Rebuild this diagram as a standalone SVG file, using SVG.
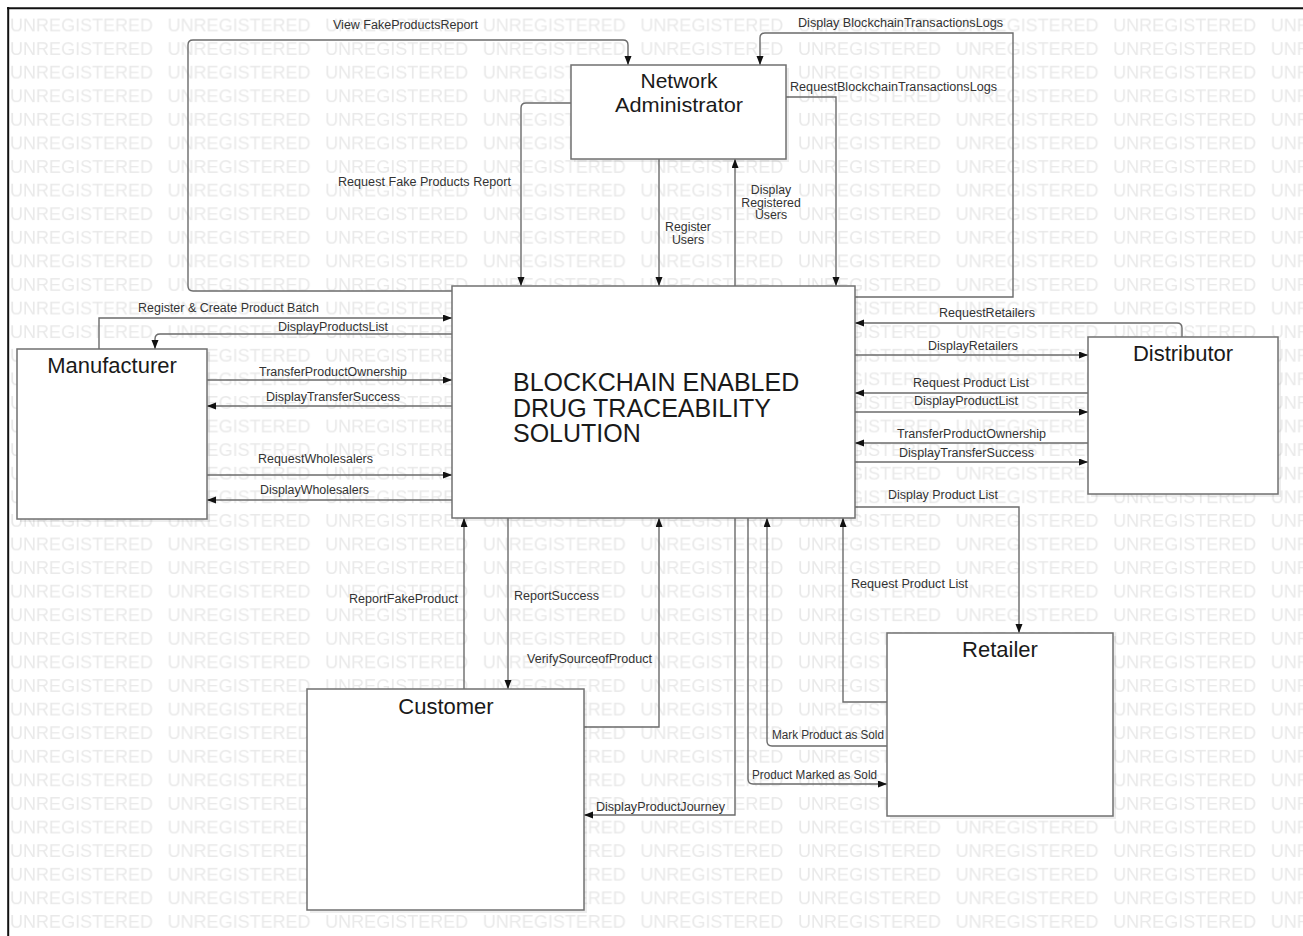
<svg xmlns="http://www.w3.org/2000/svg" width="1303" height="936" viewBox="0 0 1303 936">
  <style>
    .wm { font-family: "Liberation Sans", Arial, sans-serif; font-size: 18px; fill: #e9e9e9; }
    .node { fill: #ffffff; stroke: #707070; stroke-width: 1.5; }
    .shadow { fill: #000000; opacity: 0.07; }
    .title { font-family: "Liberation Sans", Arial, sans-serif; font-size: 22px; fill: #1a1a1a; text-anchor: middle; }
    .main { font-family: "Liberation Sans", Arial, sans-serif; font-size: 25px; fill: #1a1a1a; }
    .edge { fill: none; stroke: #6b6b6b; stroke-width: 1.4; }
    .lbl { font-family: "Liberation Sans", Arial, sans-serif; font-size: 12.3px; fill: #333333; }
    .mid { text-anchor: middle; }
  </style>
  <defs>
    <pattern id="watermark" patternUnits="userSpaceOnUse" x="10" y="12.7" width="157.6" height="23.59">
      <text class="wm" x="0" y="19">UNREGISTERED</text>
    </pattern>
    <marker id="arrow" markerUnits="userSpaceOnUse" markerWidth="10" markerHeight="8" refX="9" refY="3.5" orient="auto">
      <path d="M0,0 L9,3.5 L0,7 z" fill="#111111"/>
    </marker>
  </defs>

  <!-- page background, watermark and frame -->
  <rect x="0" y="0" width="1303" height="936" fill="#ffffff"/>
  <rect x="9" y="9" width="1294" height="927" fill="url(#watermark)"/>
  <line x1="7" y1="8.3" x2="1303" y2="8.3" stroke="#111111" stroke-width="2"/>
  <line x1="8.2" y1="7" x2="8.2" y2="936" stroke="#111111" stroke-width="2"/>

  <!-- connectors -->
  <g id="connectors">
    <path class="edge" marker-end="url(#arrow)" d="M452,291 H193 Q188,291 188,286 V45 Q188,40 193,40 H623 Q628,40 628,45 V65"/>
    <path class="edge" marker-end="url(#arrow)" d="M571,103 H526 Q521,103 521,108 V286"/>
    <path class="edge" marker-end="url(#arrow)" d="M659,159 V286"/>
    <path class="edge" marker-end="url(#arrow)" d="M735,286 V159"/>
    <path class="edge" marker-end="url(#arrow)" d="M786,97 H836 V286"/>
    <path class="edge" marker-end="url(#arrow)" d="M855,297 H1013 V33 H765 Q760,33 760,38 V65"/>

    <path class="edge" marker-end="url(#arrow)" d="M99,349 V318 H452"/>
    <path class="edge" marker-end="url(#arrow)" d="M452,334 H160 Q155,334 155,339 V349"/>
    <path class="edge" marker-end="url(#arrow)" d="M207,380 H452"/>
    <path class="edge" marker-end="url(#arrow)" d="M452,406 H207"/>
    <path class="edge" marker-end="url(#arrow)" d="M207,475 H452"/>
    <path class="edge" marker-end="url(#arrow)" d="M452,500 H207"/>

    <path class="edge" marker-end="url(#arrow)" d="M1182,337 V328 Q1182,323 1177,323 H855"/>
    <path class="edge" marker-end="url(#arrow)" d="M855,355 H1088"/>
    <path class="edge" marker-end="url(#arrow)" d="M1088,393 H855"/>
    <path class="edge" marker-end="url(#arrow)" d="M855,412 H1088"/>
    <path class="edge" marker-end="url(#arrow)" d="M1088,443 H855"/>
    <path class="edge" marker-end="url(#arrow)" d="M855,462 H1088"/>
    <path class="edge" marker-end="url(#arrow)" d="M855,507 H1019 V633"/>

    <path class="edge" marker-end="url(#arrow)" d="M887,702 H843 V518"/>
    <path class="edge" marker-end="url(#arrow)" d="M887,746 H772 Q767,746 767,741 V518"/>
    <path class="edge" marker-end="url(#arrow)" d="M748,518 V779 Q748,784 753,784 H887"/>
    <path class="edge" marker-end="url(#arrow)" d="M735,518 V815 H584"/>

    <path class="edge" marker-end="url(#arrow)" d="M464,689 V518"/>
    <path class="edge" marker-end="url(#arrow)" d="M508,518 V689"/>
    <path class="edge" marker-end="url(#arrow)" d="M584,727 H659 V518"/>

    <!-- connector labels -->
    <text class="lbl" x="333" y="29" textLength="145" lengthAdjust="spacingAndGlyphs">View FakeProductsReport</text>
    <text class="lbl" x="338" y="186" textLength="173" lengthAdjust="spacingAndGlyphs">Request Fake Products Report</text>
    <text class="lbl mid" y="231"><tspan x="688">Register</tspan><tspan x="688" dy="12.5">Users</tspan></text>
    <text class="lbl mid" y="194"><tspan x="771">Display</tspan><tspan x="771" dy="12.5">Registered</tspan><tspan x="771" dy="12.5">Users</tspan></text>
    <text class="lbl" x="790" y="91" textLength="207" lengthAdjust="spacingAndGlyphs">RequestBlockchainTransactionsLogs</text>
    <text class="lbl" x="798" y="27" textLength="205" lengthAdjust="spacingAndGlyphs">Display BlockchainTransactionsLogs</text>

    <text class="lbl" x="138" y="312" textLength="181" lengthAdjust="spacingAndGlyphs">Register &amp; Create Product Batch</text>
    <text class="lbl" x="278" y="331" textLength="110" lengthAdjust="spacingAndGlyphs">DisplayProductsList</text>
    <text class="lbl" x="259" y="376" textLength="148" lengthAdjust="spacingAndGlyphs">TransferProductOwnership</text>
    <text class="lbl" x="266" y="401" textLength="134" lengthAdjust="spacingAndGlyphs">DisplayTransferSuccess</text>
    <text class="lbl" x="258" y="463" textLength="115" lengthAdjust="spacingAndGlyphs">RequestWholesalers</text>
    <text class="lbl" x="260" y="494" textLength="109" lengthAdjust="spacingAndGlyphs">DisplayWholesalers</text>

    <text class="lbl" x="939" y="317" textLength="96" lengthAdjust="spacingAndGlyphs">RequestRetailers</text>
    <text class="lbl" x="928" y="350" textLength="90" lengthAdjust="spacingAndGlyphs">DisplayRetailers</text>
    <text class="lbl" x="913" y="387" textLength="116" lengthAdjust="spacingAndGlyphs">Request Product List</text>
    <text class="lbl" x="914" y="405" textLength="104" lengthAdjust="spacingAndGlyphs">DisplayProductList</text>
    <text class="lbl" x="897" y="438" textLength="149" lengthAdjust="spacingAndGlyphs">TransferProductOwnership</text>
    <text class="lbl" x="899" y="457" textLength="135" lengthAdjust="spacingAndGlyphs">DisplayTransferSuccess</text>
    <text class="lbl" x="888" y="499" textLength="110" lengthAdjust="spacingAndGlyphs">Display Product List</text>

    <text class="lbl" x="851" y="588" textLength="117" lengthAdjust="spacingAndGlyphs">Request Product List</text>
    <text class="lbl" x="772" y="739" textLength="112" lengthAdjust="spacingAndGlyphs">Mark Product as Sold</text>
    <text class="lbl" x="752" y="779" textLength="125" lengthAdjust="spacingAndGlyphs">Product Marked as Sold</text>
    <text class="lbl" x="596" y="811" textLength="129" lengthAdjust="spacingAndGlyphs">DisplayProductJourney</text>
    <text class="lbl" x="349" y="603" textLength="109" lengthAdjust="spacingAndGlyphs">ReportFakeProduct</text>
    <text class="lbl" x="514" y="600" textLength="85" lengthAdjust="spacingAndGlyphs">ReportSuccess</text>
    <text class="lbl" x="527" y="663" textLength="125" lengthAdjust="spacingAndGlyphs">VerifySourceofProduct</text>
  </g>

  <!-- nodes -->
  <g id="network-administrator">
    <rect class="shadow" x="574" y="68" width="215" height="94"/>
    <rect class="node" x="571" y="65" width="215" height="94"/>
    <text class="title" style="font-size:21px" y="88"><tspan x="679">Network</tspan><tspan x="679" dy="24.2" textLength="128" lengthAdjust="spacingAndGlyphs">Administrator</tspan></text>
  </g>

  <g id="blockchain-solution">
    <rect class="shadow" x="455" y="289" width="403" height="232"/>
    <rect class="node" x="452" y="286" width="403" height="232"/>
    <text class="main" y="391"><tspan x="513">BLOCKCHAIN ENABLED</tspan><tspan x="513" dy="25.5">DRUG TRACEABILITY</tspan><tspan x="513" dy="25.5">SOLUTION</tspan></text>
  </g>

  <g id="manufacturer">
    <rect class="shadow" x="20" y="352" width="190" height="170"/>
    <rect class="node" x="17" y="349" width="190" height="170"/>
    <text class="title" x="112" y="373">Manufacturer</text>
  </g>

  <g id="distributor">
    <rect class="shadow" x="1091" y="340" width="190" height="157"/>
    <rect class="node" x="1088" y="337" width="190" height="157"/>
    <text class="title" x="1183" y="361">Distributor</text>
  </g>

  <g id="retailer">
    <rect class="shadow" x="890" y="636" width="226" height="183"/>
    <rect class="node" x="887" y="633" width="226" height="183"/>
    <text class="title" x="1000" y="657">Retailer</text>
  </g>

  <g id="customer">
    <rect class="shadow" x="310" y="692" width="277" height="221"/>
    <rect class="node" x="307" y="689" width="277" height="221"/>
    <text class="title" x="446" y="714">Customer</text>
  </g>
</svg>
